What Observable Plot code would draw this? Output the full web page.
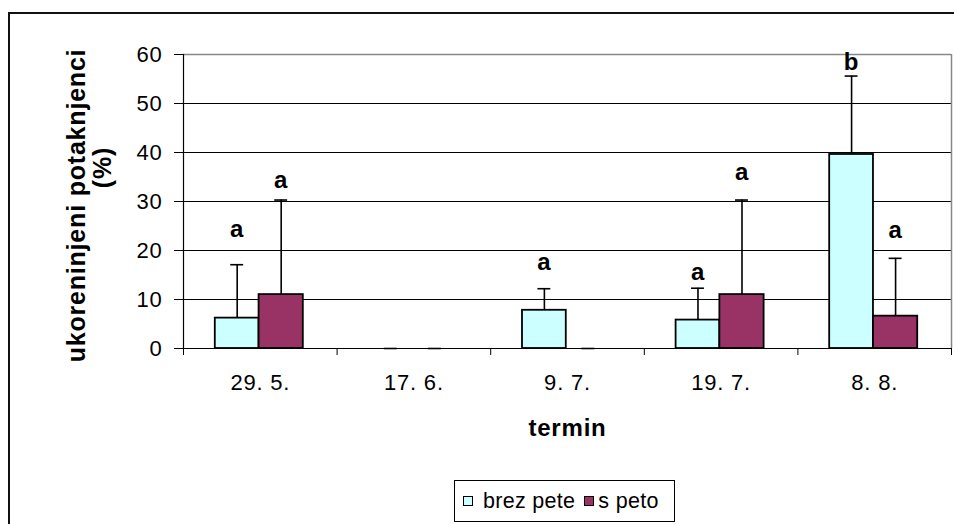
<!DOCTYPE html>
<html>
<head>
<meta charset="utf-8">
<script src="https://cdn.jsdelivr.net/npm/d3@7"></script>
<script src="https://cdn.jsdelivr.net/npm/@observablehq/plot@0.6"></script>
<style>
  html, body { margin: 0; padding: 0; background: #fff; width: 954px; height: 524px; overflow: hidden; }
  body { position: relative; font-family: Arial, "Liberation Sans", sans-serif; }
  #frame { position: absolute; left: 8px; top: 12px; width: 1000px; height: 600px; border-left: 2px solid #111; border-top: 2px solid #111; box-sizing: border-box; }
  #chart { position: absolute; left: 0; top: 0; }
  #chart svg text { letter-spacing: 0.8px; }
  #legend { position: absolute; left: 454px; top: 480px; width: 221px; height: 42px; box-sizing: border-box; border: 1px solid #000;
            display: flex; align-items: center; padding-left: 8px; font-size: 21.5px; color: #000; background: #fff; letter-spacing: 0.3px; }
  #legend .sw { width: 10px; height: 10px; border: 1px solid #000; box-sizing: border-box; display: inline-block; }
  #legend .item { display: flex; align-items: center; }
</style>
</head>
<body>
<div id="frame"></div>
<div id="chart"></div>
<div id="legend"></div>
<script>
// ---- data ----
const terms = ["29. 5.", "17. 6.", "9. 7.", "19. 7.", "8. 8."];
const series = ["brez pete", "s peto"];
const colors = ["#CCFFFF", "#993366"];
const brezPete = [6.2, 0, 7.8, 5.8, 39.6];
const brezPeteSD = [10.9, 0, 4.4, 6.5, 16.0];
const sPeto = [11.0, 0, 0, 11.0, 6.6];
const sPetoSD = [19.3, 0, 0, 19.3, 11.8];
const brezLetters = ["a", "", "a", "a", "b"];
const sPetoLetters = ["a", "", "", "a", "a"];
const brezLetterY = [24.3, null, 17.5, 15.6, 58.4];
const sPetoLetterY = [34.4, null, null, 36.0, 24.1];
const yTicks = [0, 10, 20, 30, 40, 50, 60];

// ---- layout within each category (fractions of a category slot) ----
const slotStart = [0.207, 0.492];
const slotEnd = [0.492, 0.78];
const capHalf = 0.042;

const rows = terms.flatMap((t, i) => [
  {term: t, i, s: 0, series: series[0], value: brezPete[i], sd: brezPeteSD[i], letter: brezLetters[i], ly: brezLetterY[i]},
  {term: t, i, s: 1, series: series[1], value: sPeto[i], sd: sPetoSD[i], letter: sPetoLetters[i], ly: sPetoLetterY[i]}
]).map(d => ({...d, x1: d.i + slotStart[d.s], x2: d.i + slotEnd[d.s], xc: d.i + (slotStart[d.s] + slotEnd[d.s]) / 2}));

const fontFamily = 'Arial, "Liberation Sans", sans-serif';

const chart = Plot.plot({
  width: 954,
  height: 478,
  marginLeft: 183,
  marginRight: 3,
  marginTop: 54,
  marginBottom: 130,
  style: {fontFamily, color: "#000", background: "transparent", overflow: "visible"},
  x: {domain: [0, terms.length]},
  y: {domain: [0, 60]},
  color: {domain: series, range: colors},
  marks: [
    Plot.ruleY(yTicks.filter(d => d > 0 && d < 60), {stroke: "#000", strokeWidth: 1}),
    Plot.ruleY([60], {stroke: "#888", strokeWidth: 1.5}),
    Plot.ruleX([terms.length], {y1: 0, y2: 60, stroke: "#888", strokeWidth: 1.5}),
    Plot.ruleX(rows.filter(d => d.sd > 0), {x: "xc", y1: "value", y2: d => d.value + d.sd, stroke: "#000", strokeWidth: 1.6}),
    Plot.rectY(rows.filter(d => d.value > 0), {x1: "x1", x2: "x2", y1: 0, y2: "value", fill: "series", stroke: "#000", strokeWidth: 1.8}),
    Plot.ruleY(rows, {y: d => d.value + d.sd, x1: d => d.xc - capHalf, x2: d => d.xc + capHalf, stroke: "#000", strokeWidth: 1.6}),
    Plot.ruleY([0], {stroke: "#000", strokeWidth: 1.2}),
    Plot.ruleX([0], {y1: 0, y2: 60, stroke: "#000", strokeWidth: 1.2}),
    Plot.text(rows.filter(d => d.letter), {x: "xc", y: "ly", text: "letter", fontWeight: "bold", fontSize: 24, fill: "#000"}),
    Plot.axisY({ticks: yTicks, tickSize: 9, tickPadding: 12, fontSize: 22, label: null, stroke: "#000"}),
    Plot.axisX({ticks: d3.range(terms.length + 1), tickSize: 7, tickFormat: () => "", label: null, stroke: "#000"}),
    Plot.axisX({ticks: terms.map((t, i) => i + 0.5), tickSize: 0, tickPadding: 26, tickFormat: d => terms[Math.floor(d)], fontSize: 22, label: null}),
    Plot.text(["termin"], {x: terms.length / 2, frameAnchor: "bottom", dy: 87, fontWeight: "bold", fontSize: 24, fill: "#000"}),
    Plot.text(["ukoreninjeni potaknjenci"], {frameAnchor: "left", textAnchor: "middle", rotate: -90, dx: -107, dy: 4, fontWeight: "bold", fontSize: 25, fill: "#000"}),
    Plot.text(["(%)"], {frameAnchor: "left", textAnchor: "middle", rotate: -90, dx: -81, dy: -34, fontWeight: "bold", fontSize: 25, fill: "#000"})
  ]
});
document.getElementById("chart").appendChild(chart);

// legend
const legend = document.getElementById("legend");
series.forEach((s, k) => {
  const item = document.createElement("span");
  item.className = "item";
  item.style.marginLeft = k === 0 ? "0px" : "9px";
  const sw = document.createElement("span");
  sw.className = "sw";
  sw.style.background = colors[k];
  sw.style.marginRight = k === 0 ? "10px" : "4px";
  const lab = document.createElement("span");
  lab.textContent = s;
  item.appendChild(sw);
  item.appendChild(lab);
  legend.appendChild(item);
});
</script>
</body>
</html>
